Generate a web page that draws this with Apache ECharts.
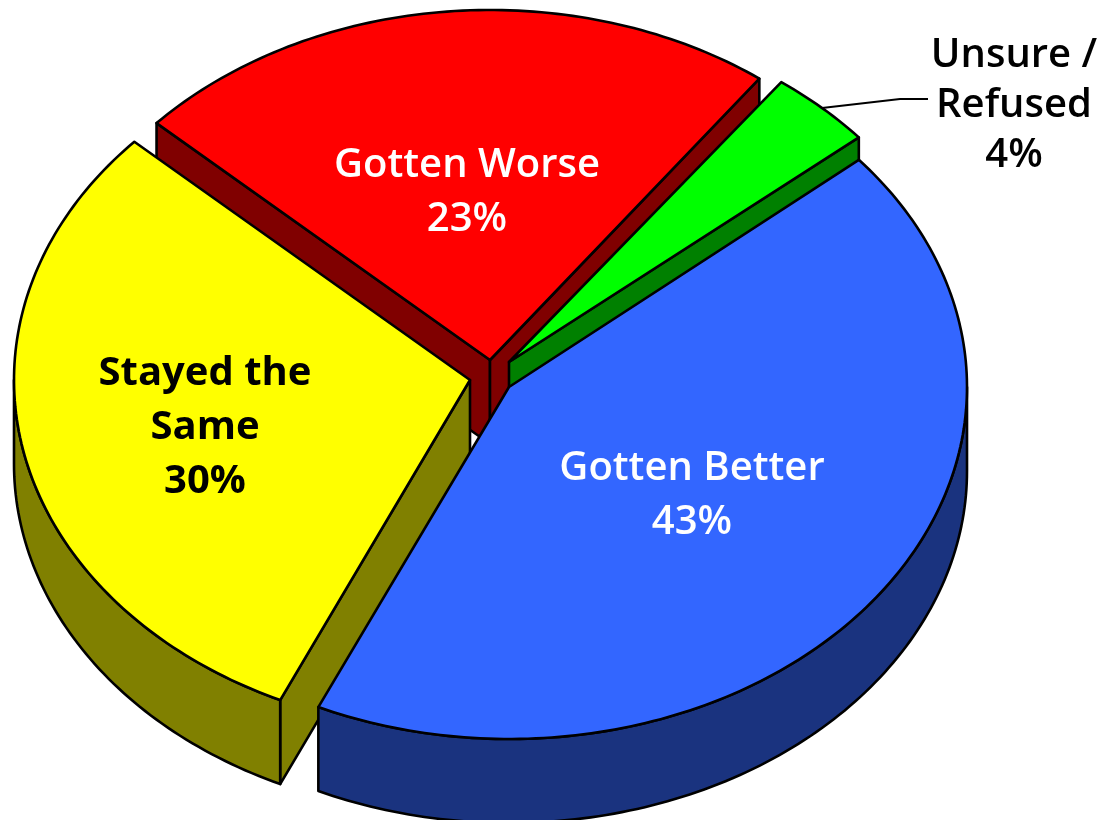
<!DOCTYPE html>
<html>
<head>
<meta charset="utf-8">
<style>html,body{margin:0;padding:0;background:#fff}#c{width:1099px;height:820px}</style>
<script src="https://cdn.jsdelivr.net/npm/echarts@6/dist/echarts.min.js"></script>
</head>
<body>
<div id="c"></div>
<script>
const categories = ['Gotten Better', 'Stayed the Same', 'Gotten Worse', 'Unsure / Refused'];
const labelLines = ['Gotten Better', 'Stayed the\nSame', 'Gotten Worse', 'Unsure /\nRefused'];
const values = [43, 30, 23.3, 3.7];
const topColors = ['#3366FF', '#FFFF00', '#FF0000', '#00FF00'];
const wallColors = ['#1A337F', '#808000', '#800000', '#008000'];
const labelColors = ['#FFFFFF', '#000000', '#FFFFFF', '#000000'];
const labelWeights = [600, 700, 600, 600];
const lineHeights = [54, 54, 54, 50];
const apexX = [509, 470, 490, 509];
const apexY = [387, 380, 360, 362];
const radiusX = [458, 456, 453, 458];
const radiusY = [352, 352, 350, 348];
const labelX = [692, 205, 467, 1014];
const labelY = [496, 428, 193, 106];
const drawOrder = [2, 3, 1, 0];
const leaderX = [822, 900, 928];
const leaderY = [108, 99, 99];

const DEPTH = 84, START = 49.8, STROKE = '#000';
const total = values.reduce((a, b) => a + b, 0);
const rad = d => d * Math.PI / 180;

function sliceAngles(i) {
  let a = START;
  for (let k = 0; k < i; k++) a += values[k] / total * 360;
  return [a, a + values[i] / total * 360];
}
function pt(i, t, dy) {
  return [apexX[i] + radiusX[i] * Math.sin(rad(t)), apexY[i] - radiusY[i] * Math.cos(rad(t)) + (dy || 0)];
}
function arc(i, a, b, dy) {
  const n = Math.max(2, Math.ceil(Math.abs(b - a)));
  const out = [];
  for (let k = 0; k <= n; k++) out.push(pt(i, a + (b - a) * k / n, dy));
  return out;
}
function poly(points, fill, z) {
  return {
    type: 'polygon', z2: z,
    shape: { points },
    style: { fill, stroke: STROKE, lineWidth: 2.6, lineJoin: 'round' }
  };
}
function visibleOuter(a, b) {
  // the outer wall shows only on the front half of the ellipse
  const ranges = [];
  for (let base = -360; base <= 720; base += 360) {
    const lo = Math.max(a, base + 90), hi = Math.min(b, base + 270);
    if (lo < hi) ranges.push([lo, hi]);
  }
  return ranges;
}

function renderItem(params) {
  const i = drawOrder[params.dataIndex];
  const [a, b] = sliceAngles(i);
  const ax = apexX[i], ay = apexY[i], wall = wallColors[i];
  const kids = [];
  const apexTop = [ax, ay], apexBot = [ax, ay + DEPTH];
  if (Math.sin(rad(a)) < 0) {
    kids.push(poly([apexTop, pt(i, a), pt(i, a, DEPTH), apexBot], wall, 1));
  }
  if (Math.sin(rad(b)) > 0) {
    kids.push(poly([apexTop, pt(i, b), pt(i, b, DEPTH), apexBot], wall, 1));
  }
  visibleOuter(a, b).forEach(r => {
    kids.push(poly(arc(i, r[0], r[1]).concat(arc(i, r[1], r[0], DEPTH)), wall, 2));
  });
  kids.push(poly([apexTop].concat(arc(i, a, b)), topColors[i], 3));
  kids.push({
    type: 'text', z2: 10,
    style: {
      text: labelLines[i] + '\n' + Math.round(values[i]) + '%',
      x: labelX[i], y: labelY[i],
      align: 'center', verticalAlign: 'middle',
      font: labelWeights[i] + ' 40px "Open Sans", "Noto Sans", sans-serif',
      lineHeight: lineHeights[i], fill: labelColors[i]
    }
  });
  if (i === 3) {
    kids.push({
      type: 'polyline', z2: 9,
      shape: { points: leaderX.map((x, k) => [x, leaderY[k]]) },
      style: { fill: 'none', stroke: STROKE, lineWidth: 2 }
    });
  }
  return { type: 'group', children: kids };
}

const chart = echarts.init(document.getElementById('c'), null, { renderer: 'canvas' });
chart.setOption({
  animation: false,
  backgroundColor: '#fff',
  series: [{
    type: 'custom',
    coordinateSystem: 'none',
    renderItem,
    data: drawOrder.map(i => ({ name: categories[i], value: values[i] }))
  }]
});
</script>
</body>
</html>
